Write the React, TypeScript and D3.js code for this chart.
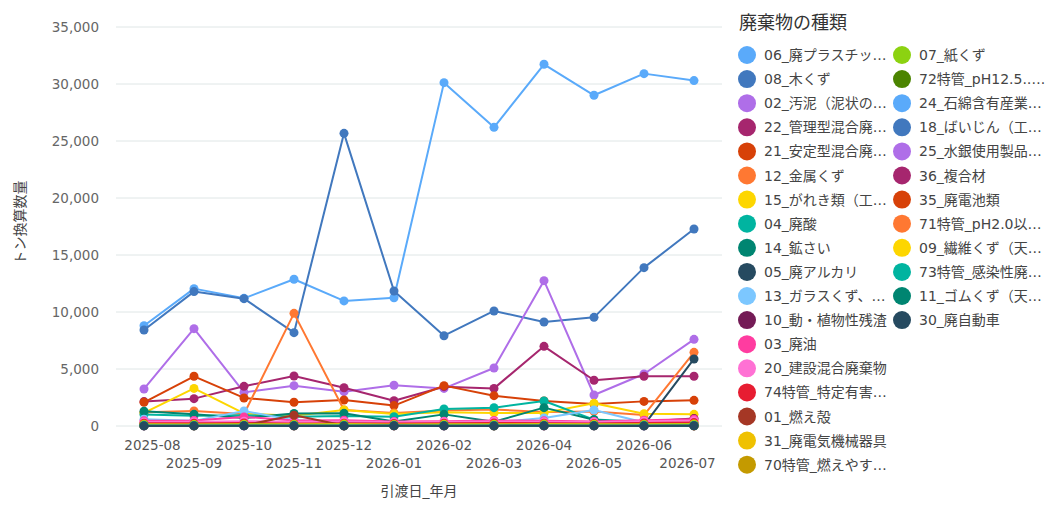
import React from "react";
import * as d3 from "d3";

const months = [
  "2025-08", "2025-09", "2025-10", "2025-11", "2025-12", "2026-01",
  "2026-02", "2026-03", "2026-04", "2026-05", "2026-06", "2026-07",
];

const yTicks = [0, 5000, 10000, 15000, 20000, 25000, 30000, 35000];

// legend labels, as shown (truncated) in the reference
const seriesNames = [
  "06_廃プラスチッ…", "08_木くず", "02_汚泥（泥状の…", "22_管理型混合廃…",
  "21_安定型混合廃…", "12_金属くず", "15_がれき類（工…", "04_廃酸",
  "14_鉱さい", "05_廃アルカリ", "13_ガラスくず、…", "10_動・植物性残渣",
  "03_廃油", "20_建設混合廃棄物", "74特管_特定有害…", "01_燃え殻",
  "31_廃電気機械器具", "70特管_燃えやす…",
  "07_紙くず", "72特管_pH12.5.….", "24_石綿含有産業…", "18_ばいじん（工…",
  "25_水銀使用製品…", "36_複合材", "35_廃電池類", "71特管_pH2.0以…",
  "09_繊維くず（天…", "73特管_感染性廃…", "11_ゴムくず（天…", "30_廃自動車",
];

const seriesColors = [
  "#5aaafa", "#4178be", "#af6ee8", "#a6266e", "#d74108", "#ff7832",
  "#fdd600", "#00b4a0", "#008571", "#264a60", "#7cc7ff", "#741b56",
  "#ff3ca0", "#ff71d4", "#e71d32", "#a53725", "#efc100", "#c49a00",
  "#8cd211", "#4b8400", "#5aaafa", "#4178be", "#af6ee8", "#a6266e",
  "#d74108", "#ff7832", "#fdd600", "#00b4a0", "#008571", "#264a60",
];

const v06 = [8800, 12050, 11200, 12870, 10970, 11250, 30120, 26200, 31730, 29010, 30910, 30300];
const v08 = [8420, 11790, 11170, 8190, 25670, 11840, 7920, 10090, 9120, 9530, 13890, 17280];
const v02 = [3250, 8540, 2950, 3540, 3010, 3570, 3300, 5090, 12750, 2720, 4560, 7600];
const v22 = [2140, 2400, 3480, 4390, 3360, 2220, 3450, 3300, 6990, 4010, 4360, 4360];
const v21 = [2080, 4360, 2460, 2080, 2280, 1790, 3540, 2660, 2190, 1930, 2160, 2250];
const v12 = [1200, 1320, 1050, 9880, 1400, 1140, 1350, 1450, 1220, 1280, 960, 6460];
const v15 = [1150, 3300, 1100, 900, 1400, 1050, 1200, 1150, 1150, 1990, 1080, 1020];
const v04 = [1000, 900, 950, 820, 870, 820, 1500, 1610, 2190, 560, 380, 90];
const v14 = [1300, 1020, 700, 1100, 1110, 400, 1020, 380, 1610, 550, 200, 100];
const v05 = [90, 80, 50, 60, 50, 40, 60, 50, 70, 60, 80, 5880];
const v13 = [600, 450, 1320, 500, 350, 300, 250, 300, 700, 1400, 300, 250];
const v10 = [200, 180, 150, 180, 150, 120, 150, 200, 300, 280, 400, 650];
const v03 = [450, 480, 800, 480, 500, 400, 420, 480, 450, 400, 500, 600];
const v20 = [350, 380, 420, 380, 400, 350, 380, 400, 380, 350, 420, 450];
const v74 = [250, 240, 260, 230, 250, 220, 240, 260, 250, 230, 260, 300];
const v01 = [80, 60, 50, 950, 40, 30, 50, 60, 40, 50, 40, 60];
const v31 = [150, 140, 160, 150, 170, 130, 150, 160, 170, 150, 160, 180];
const v70 = [50, 40, 60, 50, 40, 50, 60, 40, 50, 60, 50, 40];
const v07 = [120, 110, 130, 100, 120, 90, 110, 120, 100, 110, 120, 130];
const v72 = [30, 20, 40, 30, 20, 30, 40, 20, 30, 40, 30, 20];
const v24 = [20, 30, 20, 40, 30, 20, 30, 40, 20, 30, 20, 30];
const v18 = [60, 50, 70, 60, 50, 60, 70, 50, 60, 70, 60, 50];
const v25 = [10, 20, 10, 20, 10, 20, 10, 20, 10, 20, 10, 20];
const v36 = [40, 30, 50, 40, 30, 40, 50, 30, 40, 50, 40, 30];
const v35 = [30, 40, 30, 20, 40, 30, 20, 40, 30, 20, 40, 30];
const v71 = [20, 10, 30, 20, 10, 20, 30, 10, 20, 30, 20, 10];
const v09 = [70, 60, 80, 70, 60, 70, 80, 60, 70, 80, 70, 60];
const v73 = [40, 50, 40, 30, 50, 40, 30, 50, 40, 30, 50, 40];
const v11 = [30, 20, 30, 40, 20, 30, 40, 20, 30, 40, 30, 20];
const v30 = [10, 10, 20, 10, 10, 20, 10, 10, 20, 10, 10, 20];

const seriesValues = [
  v06, v08, v02, v22, v21, v12, v15, v04, v14, v05, v13, v10, v03, v20, v74,
  v01, v31, v70, v07, v72, v24, v18, v25, v36, v35, v71, v09, v73, v11, v30,
];

const FONT = "'DejaVu Sans', 'Noto Sans CJK JP', sans-serif";
const PLOT_LEFT = 116;
const PLOT_RIGHT = 722;
const PLOT_TOP = 27;
const PLOT_BOTTOM = 426;
const LEGEND_ROWS = 18;

export default function App() {
  const x = d3.scalePoint<string>().domain(months).range([PLOT_LEFT, PLOT_RIGHT]).padding(0.56);
  const y = d3.scaleLinear().domain([0, 35000]).range([PLOT_BOTTOM, PLOT_TOP]);

  const line = d3
    .line<number>()
    .x((_, i) => x(months[i])!)
    .y((d) => y(d));

  return (
    <div style={{ position: "fixed", left: 0, top: 0 }}>
      <svg width={1055} height={505} style={{ fontFamily: FONT, display: "block" }}>
        <rect width={1055} height={505} fill="#fff" />

        {/* grid */}
        {yTicks.map((t) => (
          <g key={t}>
            <line x1={PLOT_LEFT} x2={PLOT_RIGHT} y1={y(t)} y2={y(t)} stroke="#dfe6e6" strokeWidth={1} />
            <text x={99} y={y(t)} textAnchor="end" dominantBaseline="central" fontSize={13.5} fill="#666">
              {d3.format(",")(t)}
            </text>
          </g>
        ))}

        {/* x tick labels, staggered in two rows */}
        {months.map((m, i) => (
          <text
            key={m}
            x={Math.max(152.5, Math.min(687.5, x(m)!))}
            y={i % 2 === 0 ? 445 : 463}
            textAnchor="middle"
            dominantBaseline="central"
            fontSize={13.5}
            fill="#555"
          >
            {m}
          </text>
        ))}

        <text x={(PLOT_LEFT + PLOT_RIGHT) / 2} y={491} textAnchor="middle" dominantBaseline="central" fontSize={14} fill="#444">
          引渡日_年月
        </text>
        <text
          transform={`translate(20, ${(PLOT_TOP + PLOT_BOTTOM) / 2 - 4}) rotate(-90)`}
          textAnchor="middle"
          dominantBaseline="central"
          fontSize={14}
          fill="#444"
        >
          トン換算数量
        </text>

        {/* series */}
        {seriesValues.map((vals, s) => (
          <g key={seriesNames[s]}>
            <path d={line(vals)!} fill="none" stroke={seriesColors[s]} strokeWidth={2} strokeLinejoin="round" />
            {vals.map((v, i) => (
              <circle key={i} cx={x(months[i])} cy={y(v)} r={4.5} fill={seriesColors[s]} />
            ))}
          </g>
        ))}

        {/* legend */}
        <text x={739} y={22} dominantBaseline="central" fontSize={18} fill="#333">
          廃棄物の種類
        </text>
        {seriesNames.map((name, i) => {
          const col = Math.floor(i / LEGEND_ROWS);
          const row = i % LEGEND_ROWS;
          const cx = col === 0 ? 747 : 902;
          const cy = 55 + row * 24.1;
          return (
            <g key={name}>
              <circle cx={cx} cy={cy} r={9} fill={seriesColors[i]} />
              <text x={cx + 17} y={cy} dominantBaseline="central" fontSize={14} fill="#444">
                {name}
              </text>
            </g>
          );
        })}
      </svg>
    </div>
  );
}
